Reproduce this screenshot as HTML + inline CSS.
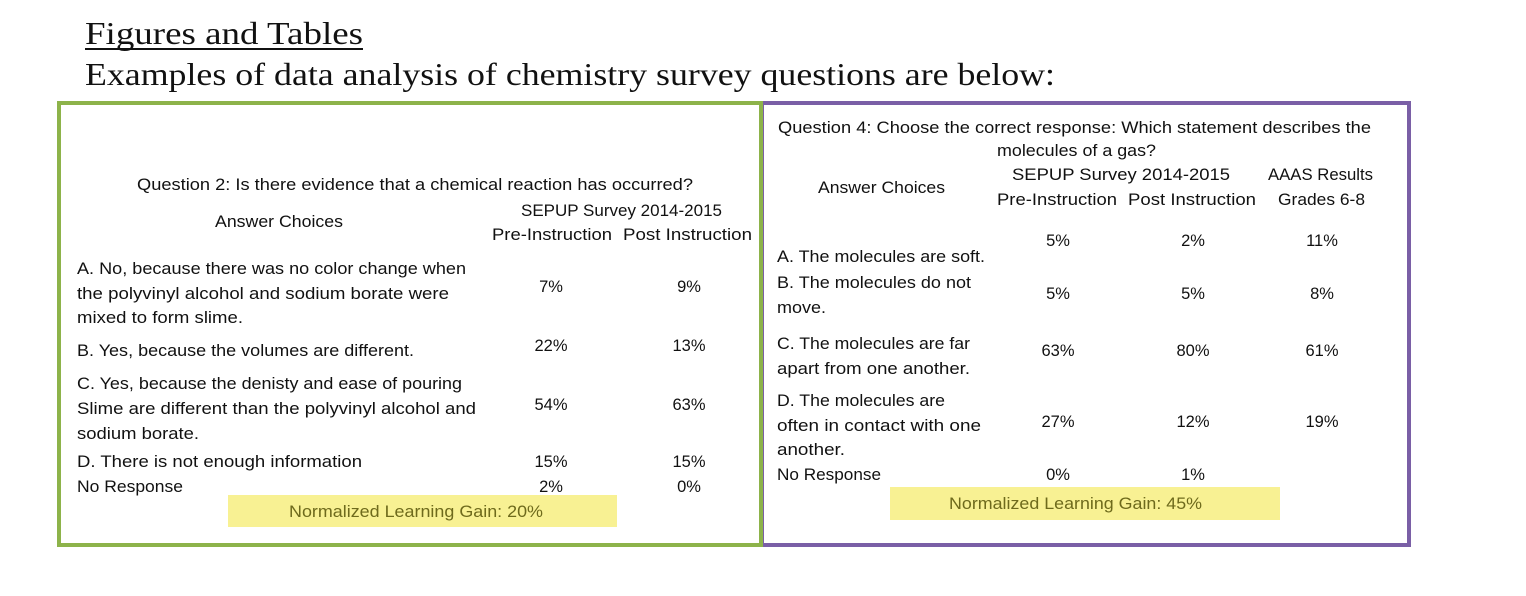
<!DOCTYPE html>
<html><head><meta charset="utf-8"><style>
html,body{margin:0;padding:0;background:#fff;}
svg{display:block;}
text{font-family:"Liberation Sans",sans-serif;font-size:16.5px;fill:#111;}
.s{font-family:"Liberation Serif",serif;font-size:32px;fill:#111;}
.c{text-anchor:middle;}
.y{fill:#6e6a1c;}
</style></head><body>
<svg width="1526" height="596" viewBox="0 0 1526 596" xmlns="http://www.w3.org/2000/svg">
<rect width="1526" height="596" fill="#fff"/>
<text class="s" x="85" y="44" textLength="278" lengthAdjust="spacingAndGlyphs">Figures and Tables</text>
<rect x="85" y="48" width="278" height="2" fill="#111"/>
<text class="s" x="85" y="85" textLength="970" lengthAdjust="spacingAndGlyphs">Examples of data analysis of chemistry survey questions are below:</text>

<rect x="762" y="103" width="647" height="442" fill="none" stroke="#7a5fa6" stroke-width="4"/>
<rect x="59" y="103" width="702" height="442" fill="none" stroke="#8db34a" stroke-width="4"/>

<rect x="228" y="495" width="389" height="32" fill="#f8f193"/>
<rect x="890" y="487" width="390" height="33" fill="#f8f193"/>

<!-- left -->
<text x="137" y="190" textLength="556" lengthAdjust="spacingAndGlyphs">Question 2: Is there evidence that a chemical reaction has occurred?</text>
<text x="521" y="216" textLength="201" lengthAdjust="spacingAndGlyphs">SEPUP Survey 2014-2015</text>
<text x="215" y="227" textLength="128" lengthAdjust="spacingAndGlyphs">Answer Choices</text>
<text x="492" y="240" textLength="120" lengthAdjust="spacingAndGlyphs">Pre-Instruction</text>
<text x="623" y="240" textLength="129" lengthAdjust="spacingAndGlyphs">Post Instruction</text>
<text x="77" y="274" textLength="389" lengthAdjust="spacingAndGlyphs">A. No, because there was no color change when</text>
<text x="77" y="299" textLength="372" lengthAdjust="spacingAndGlyphs">the polyvinyl alcohol and sodium borate were</text>
<text x="77" y="323" textLength="166" lengthAdjust="spacingAndGlyphs">mixed to form slime.</text>
<text class="c" x="551" y="292">7%</text><text class="c" x="689" y="292">9%</text>
<text x="77" y="356" textLength="337" lengthAdjust="spacingAndGlyphs">B. Yes, because the volumes are different.</text>
<text class="c" x="551" y="351">22%</text><text class="c" x="689" y="351">13%</text>
<text x="77" y="389" textLength="385" lengthAdjust="spacingAndGlyphs">C. Yes, because the denisty and ease of pouring</text>
<text x="77" y="414" textLength="399" lengthAdjust="spacingAndGlyphs">Slime are different than the polyvinyl alcohol and</text>
<text x="77" y="439" textLength="122" lengthAdjust="spacingAndGlyphs">sodium borate.</text>
<text class="c" x="551" y="410">54%</text><text class="c" x="689" y="410">63%</text>
<text x="77" y="467" textLength="285" lengthAdjust="spacingAndGlyphs">D. There is not enough information</text>
<text class="c" x="551" y="467">15%</text><text class="c" x="689" y="467">15%</text>
<text x="77" y="492" textLength="106" lengthAdjust="spacingAndGlyphs">No Response</text>
<text class="c" x="551" y="492">2%</text><text class="c" x="689" y="492">0%</text>
<text class="y" x="289" y="517" textLength="254" lengthAdjust="spacingAndGlyphs">Normalized Learning Gain: 20%</text>

<!-- right -->
<text x="778" y="133" textLength="593" lengthAdjust="spacingAndGlyphs">Question 4: Choose the correct response: Which statement describes the</text>
<text x="997" y="156" textLength="159" lengthAdjust="spacingAndGlyphs">molecules of a gas?</text>
<text x="818" y="193" textLength="127" lengthAdjust="spacingAndGlyphs">Answer Choices</text>
<text x="1012" y="180" textLength="218" lengthAdjust="spacingAndGlyphs">SEPUP Survey 2014-2015</text>
<text x="1268" y="180" textLength="105" lengthAdjust="spacingAndGlyphs">AAAS Results</text>
<text x="997" y="205" textLength="120" lengthAdjust="spacingAndGlyphs">Pre-Instruction</text>
<text x="1128" y="205" textLength="128" lengthAdjust="spacingAndGlyphs">Post Instruction</text>
<text x="1278" y="205" textLength="87" lengthAdjust="spacingAndGlyphs">Grades 6-8</text>
<text class="c" x="1058" y="246">5%</text><text class="c" x="1193" y="246">2%</text><text class="c" x="1322" y="246">11%</text>
<text x="777" y="262" textLength="208" lengthAdjust="spacingAndGlyphs">A. The molecules are soft.</text>
<text x="777" y="288" textLength="194" lengthAdjust="spacingAndGlyphs">B. The molecules do not</text>
<text x="777" y="313" textLength="49" lengthAdjust="spacingAndGlyphs">move.</text>
<text class="c" x="1058" y="299">5%</text><text class="c" x="1193" y="299">5%</text><text class="c" x="1322" y="299">8%</text>
<text x="777" y="349" textLength="193" lengthAdjust="spacingAndGlyphs">C. The molecules are far</text>
<text x="777" y="374" textLength="193" lengthAdjust="spacingAndGlyphs">apart from one another.</text>
<text class="c" x="1058" y="356">63%</text><text class="c" x="1193" y="356">80%</text><text class="c" x="1322" y="356">61%</text>
<text x="777" y="406" textLength="168" lengthAdjust="spacingAndGlyphs">D. The molecules are</text>
<text x="777" y="431" textLength="204" lengthAdjust="spacingAndGlyphs">often in contact with one</text>
<text x="777" y="455" textLength="68" lengthAdjust="spacingAndGlyphs">another.</text>
<text class="c" x="1058" y="427">27%</text><text class="c" x="1193" y="427">12%</text><text class="c" x="1322" y="427">19%</text>
<text x="777" y="480" textLength="104" lengthAdjust="spacingAndGlyphs">No Response</text>
<text class="c" x="1058" y="480">0%</text><text class="c" x="1193" y="480">1%</text>
<text class="y" x="949" y="509" textLength="253" lengthAdjust="spacingAndGlyphs">Normalized Learning Gain: 45%</text>
</svg>
</body></html>
